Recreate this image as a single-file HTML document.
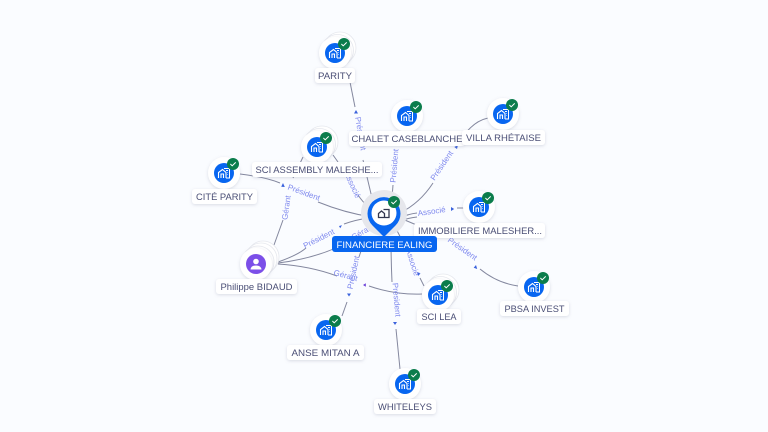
<!DOCTYPE html>
<html><head><meta charset="utf-8"><style>
html,body{margin:0;padding:0;width:768px;height:432px;overflow:hidden;background:#fafcff}
svg{display:block}
text{font-family:"Liberation Sans",sans-serif}
.e{fill:none;stroke:#83879e;stroke-width:1}
.el{font-size:8px;fill:#7f89ee;text-anchor:middle}
.lb{fill:#fff;filter:url(#s)}
.lt{font-size:9px;fill:#4a4e75;text-anchor:middle}
.a{fill:#3a62dc}
.p{fill:#6a3fd8}
</style></head><body>
<svg width="768" height="432" viewBox="0 0 768 432" xmlns="http://www.w3.org/2000/svg">
<defs>
<filter id="s" x="-30%" y="-60%" width="160%" height="220%"><feDropShadow dx="0" dy="1" stdDeviation="1.5" flood-color="#8a90a8" flood-opacity=".3"/></filter>
<g id="ic"><path d="M-5.5 5V-.5L-1.500-3.500 2-.5V5M-3 5V1H-.5V5" fill="none" stroke="#fff" stroke-width="1.100"/><path d="M0-4.500H5.500V5H2M2-2.500H4M3.500-.5H4M3.500 1.500H4" fill="none" stroke="#fff" stroke-width="1"/></g>
<g id="ck"><circle r="6" fill="#0b7d4c"/><path d="M-2.600 0L-.8 1.800 2.700-1.600" fill="none" stroke="#fff" stroke-width="1"/></g>
<g id="n"><circle r="16" fill="#fff" filter="url(#s)"/><circle r="10" fill="#0866f0"/><use href="#ic"/><use href="#ck" x="9" y="-9"/></g>
<g id="sc"><circle cx="5" cy="-5" r="16" fill="#fff" stroke="#e6e8ee" stroke-width=".8"/><circle cx="2.500" cy="-2.500" r="16" fill="#fff" stroke="#e6e8ee" stroke-width=".8"/></g>
</defs>
<rect width="768" height="432" fill="#fafcff"/>

<!-- edges -->
<path class="e" d="M350 82L355 107"/><path class="e" d="M363 160L372 198"/>
<path class="e" d="M333 155L338 162M358 195Q362 201 369 208"/>
<path class="e" d="M240 174Q265 177 280 183M318 202Q345 213 372 217"/>
<path class="e" d="M393 185L392 198"/>
<path class="e" d="M488 118Q470 122 458 145M433 183Q420 203 400 213"/>
<path class="e" d="M400 218Q408 214 417 213M400 221Q408 218 417 217M457 208H464"/>
<path class="e" d="M400 218L445 237"/>
<path class="e" d="M480 269Q497 283 518 286"/>
<path class="e" d="M394 225Q402 240 407 250"/><path class="e" d="M420 278L424 286"/>
<path class="e" d="M391 240Q391 260 392 282"/><path class="e" d="M396 329L400 369"/>
<path class="e" d="M274 245L283 220"/><path class="e" d="M293 178L303 157"/>
<path class="e" d="M278 262Q298 255 306 248"/><path class="e" d="M344 224Q355 220 368 218"/>
<path class="e" d="M278 263Q320 258 352 240"/>
<path class="e" d="M278 264Q310 266 337 276"/><path class="e" d="M369 286Q395 295 422 294"/>
<path class="e" d="M347 302L342 316"/>
<path class="e" d="M362 248L359 257"/>

<!-- arrowheads -->
<path class="a" d="M356 110l2 3.500h-4zM283 183l1.800 4-3.600-.3zM458 145l-1 4-2.700-2zM451 207l3.200 2-3.200 2zM476 265l1.200 4-3.500-1.300zM417 272l3.500 1.500-2.500 2.500zM393 322h4l-2 3zM347 293.500h4l-2 3zM339 226l3-.8-1.800 3z"/>
<path class="p" d="M363 285l2.800-1.800 0 3.600z"/>

<!-- edge labels -->
<text class="el" transform="translate(358 134) rotate(80)">Président</text>
<text class="el" transform="translate(350 186) rotate(65)">Associé</text>
<text class="el" transform="translate(289 208) rotate(-82)">Gérant</text>
<text class="el" transform="translate(303 195) rotate(20)">Président</text>
<text class="el" transform="translate(397 166) rotate(-85)">Président</text>
<text class="el" transform="translate(444 167) rotate(-56)">Président</text>
<text class="el" transform="translate(432 214) rotate(-8)">Associé</text>
<text class="el" transform="translate(461 251) rotate(35)">Président</text>
<text class="el" transform="translate(410 263) rotate(72)">Associé</text>
<text class="el" transform="translate(394 300) rotate(85)">Président</text>
<text class="el" transform="translate(320 241) rotate(-27)">Président</text>
<text class="el" transform="translate(356 273) rotate(-78)">Président</text>
<text class="el" transform="translate(345 278) rotate(15)">Gérant</text>
<text class="el" transform="translate(364 234) rotate(-30)">Gérant</text>

<!-- nodes -->
<use href="#sc" x="335" y="53"/><use href="#n" x="335" y="53"/>
<use href="#sc" x="317" y="147"/><use href="#n" x="317" y="147"/>
<use href="#n" x="224" y="173"/>
<use href="#n" x="407" y="116"/>
<use href="#n" x="503" y="114"/>
<use href="#n" x="479" y="207"/>
<use href="#n" x="534" y="287"/>
<use href="#sc" x="438" y="295"/><use href="#n" x="438" y="295"/>
<use href="#n" x="405" y="384"/>
<use href="#n" x="326" y="330"/>

<!-- person -->
<circle cx="263" cy="257" r="16" fill="#fff" stroke="#e6e8ee" stroke-width=".8"/><circle cx="261" cy="259" r="16" fill="#fff" stroke="#e6e8ee" stroke-width=".8"/><circle cx="258" cy="262" r="16" fill="#fff" stroke="#e6e8ee" stroke-width=".8"/><circle cx="256" cy="264" r="16" fill="#fff" filter="url(#s)"/>
<circle cx="256" cy="264" r="10" fill="#7c4fe8"/><circle cx="256" cy="261.500" r="2.800" fill="#fff"/><path d="M250.500 269.500Q251 265.500 256 265.500T261.500 269.500z" fill="#fff"/>

<!-- center -->
<circle cx="384" cy="213" r="23" fill="#e6e7ec"/>
<path d="M384 237L372.500 225.500A16.500 16.500 0 1 1 395.500 225.500z" fill="#0866f0"/>
<circle cx="384" cy="213" r="12.500" fill="#fff"/>
<g transform="translate(384 213)" fill="none" stroke="#33374f" stroke-width="1.300"><path d="M-5.500 4.500V.5L-2.500-2 .5.500V4.500zM-.5-3.500H5V4.500H1"/></g>
<use href="#ck" x="394" y="202"/>

<!-- labels -->
<rect class="lb" x="315" y="68" width="40" height="15" rx="3"/><text class="lt" x="335" y="79" textLength="34" lengthAdjust="spacingAndGlyphs">PARITY</text>
<rect class="lb" x="349" y="131" width="116" height="15" rx="3"/><text class="lt" x="407" y="142" textLength="111" lengthAdjust="spacingAndGlyphs">CHALET CASEBLANCHE</text>
<rect class="lb" x="462" y="130" width="83" height="15" rx="3"/><text class="lt" x="503.500" y="141" textLength="75" lengthAdjust="spacingAndGlyphs">VILLA RHÉTAISE</text>
<rect class="lb" x="252" y="162" width="130" height="15" rx="3"/><text class="lt" x="317" y="173" textLength="123" lengthAdjust="spacingAndGlyphs">SCI ASSEMBLY MALESHE...</text>
<rect class="lb" x="192" y="189" width="65" height="15" rx="3"/><text class="lt" x="224.500" y="200" textLength="57" lengthAdjust="spacingAndGlyphs">CITÉ PARITY</text>
<rect class="lb" x="414" y="223" width="131" height="15" rx="3"/><text class="lt" x="480" y="234" textLength="124" lengthAdjust="spacingAndGlyphs">IMMOBILIERE MALESHER...</text>
<rect class="lb" x="216" y="279" width="81" height="15" rx="3"/><text class="lt" x="256.500" y="290" textLength="72" lengthAdjust="spacingAndGlyphs">Philippe BIDAUD</text>
<rect class="lb" x="500" y="301" width="69" height="15" rx="3"/><text class="lt" x="534.500" y="312" textLength="60" lengthAdjust="spacingAndGlyphs">PBSA INVEST</text>
<rect class="lb" x="417" y="309" width="44" height="15" rx="3"/><text class="lt" x="439" y="320" textLength="35" lengthAdjust="spacingAndGlyphs">SCI LEA</text>
<rect class="lb" x="287" y="345" width="77" height="15" rx="3"/><text class="lt" x="325.500" y="356" textLength="68" lengthAdjust="spacingAndGlyphs">ANSE MITAN A</text>
<rect class="lb" x="374" y="399" width="62" height="15" rx="3"/><text class="lt" x="405" y="410" textLength="54" lengthAdjust="spacingAndGlyphs">WHITELEYS</text>
<rect x="332" y="236" width="105" height="16" rx="3" fill="#0866f0"/><text class="lt" x="384.500" y="248" textLength="96" lengthAdjust="spacingAndGlyphs" style="fill:#fff">FINANCIERE EALING</text>
</svg>
</body></html>
